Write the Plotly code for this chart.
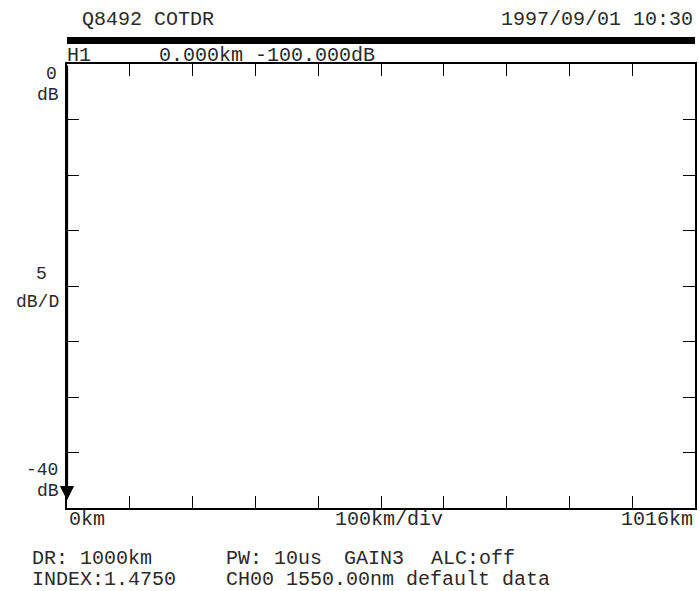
import plotly.graph_objects as go

# ---- data / labels ----
x_range_km = [0, 1016]
x_divisions = 10
y_range_db = [-40, 0]
y_div_db = 5
x_tick_vals = [x_range_km[1] * k / x_divisions for k in range(x_divisions + 1)]
y_tick_vals = [y_range_db[0] + y_div_db * k for k in range(int((y_range_db[1] - y_range_db[0]) / y_div_db) + 1)]

header_left = "Q8492 COTDR"
header_right = "1997/09/01 10:30"
marker_name = "H1"
marker_info = "0.000km -100.000dB"
y_top_label = ["0", "dB"]
y_mid_label = ["5", "dB/D"]
y_bot_label = ["-40", "dB"]
x_labels = ["0km", "100km/div", "1016km"]
info_row1 = ["DR: 1000km", "PW: 10us", "GAIN3", "ALC:off"]
info_row2 = ["INDEX:1.4750", "CH00 1550.00nm default data"]

W, H = 699, 591
# plot frame in page pixels
L, R, T, B = 67, 697, 64, 508

def xp(px):
    return (px - L) / (R - L)

def yp(py):
    return (B - py) / (B - T)

FONT = dict(family="Liberation Mono, DejaVu Sans Mono, monospace", size=20, color="#2a2a2a")
FONT_Y = dict(family="Liberation Mono, DejaVu Sans Mono, monospace", size=18, color="#2a2a2a")

fig = go.Figure()
fig.add_trace(go.Scatter(x=[], y=[], mode="lines", showlegend=False))

axis_common = dict(
    showline=True, linecolor="black", linewidth=1.5, mirror="ticks",
    ticks="inside", ticklen=12, tickwidth=1.3, tickcolor="black",
    showgrid=False, zeroline=False, showticklabels=False, fixedrange=True,
)
fig.update_xaxes(range=x_range_km, tickmode="array", tickvals=x_tick_vals, **axis_common)
fig.update_yaxes(range=y_range_db, tickmode="array", tickvals=y_tick_vals, **axis_common)

shapes = []
# thick header bar
shapes.append(dict(type="rect", xref="paper", yref="paper", x0=0, x1=1,
                   y0=yp(44), y1=yp(37), fillcolor="black", line=dict(width=0)))
fig.update_layout(shapes=shapes)

ann = []
def text(s, px, py, xanchor="left", font=FONT):
    ann.append(dict(text=s, x=xp(px), y=yp(py), xref="paper", yref="paper",
                    xanchor=xanchor, yanchor="middle", showarrow=False, font=font))

text(header_left, 80, 20)
text(header_right, 697, 20, "right")
text(marker_name, 65, 55)
text(marker_info, 157, 55)
text(y_top_label[0], 59, 74, "right", FONT_Y)
text(y_top_label[1], 61, 95, "right", FONT_Y)
text(y_mid_label[0], 49, 274, "right", FONT_Y)
text(y_mid_label[1], 61, 302, "right", FONT_Y)
text(y_bot_label[0], 60, 470, "right", FONT_Y)
text(y_bot_label[1], 61, 491, "right", FONT_Y)
text(x_labels[0], 67, 519)
text(x_labels[1], 390, 519, "center")
text(x_labels[2], 697, 519, "right")
text(info_row1[0], 30, 558)
text(info_row1[1], 224, 558)
text(info_row1[2], 343, 558)
text(info_row1[3], 430, 558)
text(info_row2[0], 30, 579)
text(info_row2[1], 225, 579)

# left axis arrow (thick line with downward arrowhead)
ann.append(dict(x=x_range_km[0], y=-39.3, ax=x_range_km[0], ay=y_range_db[1],
                xref="x", yref="y", axref="x", ayref="y", text="",
                showarrow=True, arrowhead=2, arrowsize=1.3, arrowwidth=2.2,
                arrowcolor="black"))

fig.update_layout(
    width=W, height=H, autosize=False,
    margin=dict(l=L, r=W - R, t=T, b=H - B, pad=0),
    paper_bgcolor="white", plot_bgcolor="white",
    annotations=ann, showlegend=False,
)

fig.write_html(
    "out.html", include_plotlyjs=True, config={"displayModeBar": False},
    post_script="document.body.style.margin='0';document.body.style.overflow='hidden';",
)
